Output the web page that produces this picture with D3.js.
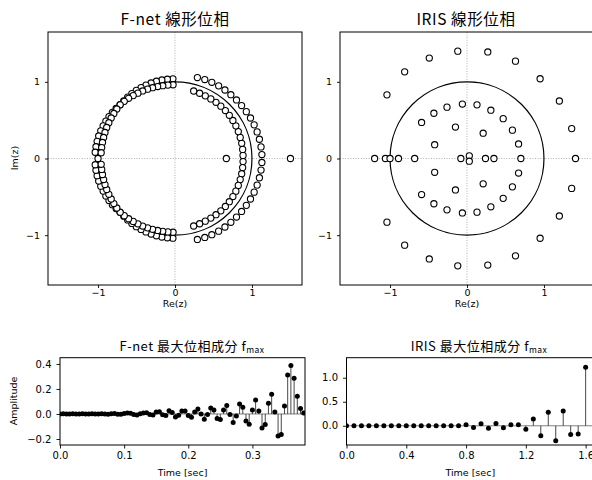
<!DOCTYPE html>
<html><head><meta charset="utf-8">
<script src="https://cdn.jsdelivr.net/npm/d3@7"></script>
<style>
body{margin:0;background:#fff}
svg{display:block;overflow:hidden}
text{font-family:"DejaVu Sans",sans-serif;fill:#000}
.ttl{font-family:"Noto Sans CJK JP",sans-serif}
</style></head><body>
<svg id="fig" width="592" height="480"></svg>
<script>
// ---- F-net linear-phase filter zeros (upper half-plane; conjugates are mirrored) ----
const fnetLeftAngle  = [91.5, 95.5, 99.5, 103.5, 107.5, 111.5, 115.5, 119.5, 123.5, 127.5, 131.5,
                        135.5, 139.5, 143.5, 147.5, 151.5, 155.5, 159.5, 163.5, 167.5, 171.5, 175.5];
const fnetLeftOuterR = [1.040, 1.039, 1.038, 1.036, 1.033, 1.029, 1.025, 1.021, 1.016, 1.010, 1.005,
                        1.001, 1.006, 1.012, 1.017, 1.022, 1.026, 1.030, 1.034, 1.036, 1.038, 1.040];
const fnetLeftInnerR = [0.962, 0.962, 0.963, 0.965, 0.968, 0.972, 0.976, 0.979, 0.984, 0.990, 0.995,
                        0.999, 0.994, 0.988, 0.983, 0.978, 0.975, 0.971, 0.967, 0.965, 0.963, 0.962];
const fnetRightAngle  = [2.6, 7.7, 12.9, 18.0, 23.1, 28.3, 33.4, 38.6, 43.7, 48.9, 54.0, 59.1, 64.3, 69.4, 74.6];
const fnetRightOuterR = [1.130, 1.128, 1.125, 1.122, 1.118, 1.114, 1.110, 1.107, 1.105, 1.104, 1.104, 1.104, 1.103, 1.100, 1.095];
const fnetRightInnerR = [0.885, 0.887, 0.889, 0.891, 0.894, 0.898, 0.901, 0.903, 0.905, 0.906, 0.906, 0.906, 0.907, 0.909, 0.913];
const fnetRealZeros = [-1.0, 0.667, 1.5];

// ---- IRIS linear-phase filter zeros (real, imaginary) ----
const irisRe = [
  -1.04, -0.81, -0.49, -0.12, 0.27, 0.63, 0.95, 1.20, 1.36, 1.41,
  -1.04, -0.81, -0.49, -0.12, 0.27, 0.63, 0.95, 1.20, 1.36,
  -0.59, -0.43, -0.26, -0.06, 0.13, 0.31, 0.47, 0.59, 0.67, 0.70,
  -0.59, -0.43, -0.26, -0.06, 0.13, 0.31, 0.47, 0.59, 0.67,
  -0.42, -0.42, -0.15, -0.15, 0.21, 0.21, 0.03, 0.03, -0.08, 0.24, 0.35,
  -1.20, -1.06, -1.00, -0.89, -0.68];
const irisIm = [
  0.83, 1.13, 1.31, 1.40, 1.39, 1.27, 1.04, 0.75, 0.39, 0.00,
  -0.83, -1.13, -1.31, -1.40, -1.39, -1.27, -1.04, -0.75, -0.39,
  0.47, 0.59, 0.67, 0.71, 0.70, 0.63, 0.52, 0.37, 0.19, 0.00,
  -0.47, -0.59, -0.67, -0.71, -0.70, -0.63, -0.52, -0.37, -0.19,
  0.18, -0.18, 0.41, -0.41, 0.33, -0.33, 0.035, -0.035, 0.00, 0.00, 0.00,
  0.00, 0.00, 0.00, 0.00, 0.00];

// ---- maximum-phase components ----
const fnetDt = 0.005;
const fnetFmax = [
  0.000, 0.001, 0.000, 0.000, 0.001, 0.000, 0.000, 0.001, 0.000, -0.001,
  0.001, 0.000, -0.001, 0.002, 0.000, -0.002, 0.002, 0.003, -0.002, -0.003,
  0.004, 0.008, 0.006, -0.004, -0.008, 0.002, 0.008, 0.010, -0.004, -0.008,
  0.016, 0.018, -0.006, -0.012, 0.026, 0.012, -0.024, -0.010, 0.024, 0.024,
  -0.013, -0.027, 0.016, 0.040, 0.000, -0.043, -0.005, 0.048, 0.032, -0.037,
  -0.045, 0.032, 0.067, -0.005, -0.069, -0.016, 0.080, 0.053, -0.056, -0.083,
  0.032, 0.112, 0.024, -0.112, -0.085, 0.085, 0.157, 0.016, -0.176, -0.165,
  0.064, 0.312, 0.387, 0.285, 0.141, 0.043, 0.008];
const irisDt = 0.05;
const irisFmax = [
  0.00, 0.00, 0.00, 0.00, 0.00, 0.00, 0.00, 0.00, 0.00, 0.00,
  0.00, 0.00, 0.00, 0.00, 0.00, 0.00, 0.02, -0.035, 0.04, -0.05,
  0.05, -0.04, 0.02, 0.02, -0.07, 0.14, -0.21, 0.28, -0.31, 0.31,
  -0.18, -0.17, 1.22];

// ---- tick labels ----
const zTicks = [-1, 0, 1];
const fnetXTicks = [0.0, 0.1, 0.2, 0.3];
const fnetYTicks = [-0.2, 0.0, 0.2, 0.4];
const irisXTicks = [0.0, 0.4, 0.8, 1.2, 1.6];
const irisYTicks = [0.0, 0.5, 1.0];

const svg = d3.select("#fig");
let clipId = 0;

function styleAxis(sel, fs) {
  sel.select(".domain").remove();
  sel.selectAll(".tick line").attr("stroke", "#000").attr("stroke-width", 0.9);
  sel.selectAll(".tick text").attr("font-family", "DejaVu Sans").attr("font-size", fs).attr("fill", "#000");
}

function frame(g, b) {
  g.append("rect").attr("x", b.x0).attr("y", b.y0).attr("width", b.x1 - b.x0).attr("height", b.y1 - b.y0)
    .attr("fill", "none").attr("stroke", "#000").attr("stroke-width", 1);
}

function clipFor(b) {
  const id = "clip" + (clipId++);
  svg.append("clipPath").attr("id", id).append("rect")
    .attr("x", b.x0).attr("y", b.y0).attr("width", b.x1 - b.x0).attr("height", b.y1 - b.y0);
  return "url(#" + id + ")";
}

function zPlane(b, re, im, titleLatin, titleCjk, tx) {
  const x = d3.scaleLinear().domain([-1.65, 1.65]).range([b.x0, b.x1]);
  const y = d3.scaleLinear().domain([-1.65, 1.65]).range([b.y1, b.y0]);
  const g = svg.append("g");
  const inner = g.append("g").attr("clip-path", clipFor(b));
  inner.append("line").attr("x1", x(0)).attr("x2", x(0)).attr("y1", b.y0).attr("y2", b.y1)
    .attr("stroke", "#999").attr("stroke-width", 0.8).attr("stroke-dasharray", "1,1.6");
  inner.append("line").attr("x1", b.x0).attr("x2", b.x1).attr("y1", y(0)).attr("y2", y(0))
    .attr("stroke", "#999").attr("stroke-width", 0.8).attr("stroke-dasharray", "1,1.6");
  inner.append("ellipse").attr("cx", x(0)).attr("cy", y(0))
    .attr("rx", x(1) - x(0)).attr("ry", y(0) - y(1))
    .attr("fill", "none").attr("stroke", "#000").attr("stroke-width", 1.2);
  inner.selectAll("circle.z").data(d3.range(re.length)).join("circle")
    .attr("class", "z").attr("cx", i => x(re[i])).attr("cy", i => y(im[i])).attr("r", 3.1)
    .attr("fill", "#fff").attr("stroke", "#000").attr("stroke-width", 1.1);
  frame(g, b);
  g.append("g").attr("transform", `translate(0,${b.y1})`)
    .call(d3.axisBottom(x).tickValues(zTicks).tickSize(3).tickPadding(1.5).tickFormat(d3.format("d")))
    .call(s => styleAxis(s, 9.5));
  g.append("g").attr("transform", `translate(${b.x0},0)`)
    .call(d3.axisLeft(y).tickValues(zTicks).tickSize(3).tickPadding(5).tickFormat(d3.format("d")))
    .call(s => styleAxis(s, 9.5));
  g.append("text").attr("x", (b.x0 + b.x1) / 2).attr("y", b.y1 + 22).attr("text-anchor", "middle")
    .attr("font-size", 9.5).text("Re(z)");
  const t = g.append("text").attr("class", "ttl").attr("x", tx).attr("y", 25)
    .attr("text-anchor", "middle").attr("font-size", 15.5).attr("letter-spacing", 0.6);
  t.append("tspan").text(titleLatin + " ");
  t.append("tspan").text(titleCjk);
  return g;
}

function stemPlot(b, vals, dt, xDom, yDom, xTicks, yTicks, titleLatin, tx) {
  const x = d3.scaleLinear().domain(xDom).range([b.x0, b.x1]);
  const y = d3.scaleLinear().domain(yDom).range([b.y1, b.y0]);
  const g = svg.append("g");
  const inner = g.append("g").attr("clip-path", clipFor(b));
  inner.append("line").attr("x1", b.x0).attr("x2", b.x1).attr("y1", y(0)).attr("y2", y(0))
    .attr("stroke", "#808080").attr("stroke-width", 1);
  inner.selectAll("line.stem").data(vals).join("line").attr("class", "stem")
    .attr("x1", (d, i) => x(i * dt)).attr("x2", (d, i) => x(i * dt))
    .attr("y1", y(0)).attr("y2", d => y(d)).attr("stroke", "#333").attr("stroke-width", 0.9);
  inner.selectAll("circle.m").data(vals).join("circle").attr("class", "m")
    .attr("cx", (d, i) => x(i * dt)).attr("cy", d => y(d)).attr("r", 2.5).attr("fill", "#000");
  frame(g, b);
  g.append("g").attr("transform", `translate(0,${b.y1})`)
    .call(d3.axisBottom(x).tickValues(xTicks).tickSize(3.5).tickPadding(3).tickFormat(d3.format(".1f")))
    .call(s => styleAxis(s, 10));
  g.append("g").attr("transform", `translate(${b.x0},0)`)
    .call(d3.axisLeft(y).tickValues(yTicks).tickSize(3.5).tickPadding(5).tickFormat(d3.format(".1f")))
    .call(s => styleAxis(s, 10));
  g.append("text").attr("x", (b.x0 + b.x1) / 2).attr("y", b.y1 + 31).attr("text-anchor", "middle")
    .attr("font-size", 9.5).text("Time [sec]");
  const t = g.append("text").attr("class", "ttl").attr("x", tx).attr("y", 351)
    .attr("text-anchor", "middle").attr("font-size", 13).attr("letter-spacing", 0.5);
  t.append("tspan").text(titleLatin + " 最大位相成分 f");
  t.append("tspan").attr("font-size", 8.5).attr("dy", 2).text("max");
  return g;
}

// assemble F-net zeros (upper set plus conjugates)
const fRe = [], fIm = [];
function addPolar(ang, rad) {
  ang.forEach((a, i) => {
    const th = a * Math.PI / 180;
    fRe.push(rad[i] * Math.cos(th)); fIm.push(rad[i] * Math.sin(th));
    fRe.push(rad[i] * Math.cos(th)); fIm.push(-rad[i] * Math.sin(th));
  });
}
addPolar(fnetLeftAngle, fnetLeftOuterR);
addPolar(fnetLeftAngle, fnetLeftInnerR);
addPolar(fnetRightAngle, fnetRightOuterR);
addPolar(fnetRightAngle, fnetRightInnerR);
fnetRealZeros.forEach(v => { fRe.push(v); fIm.push(0); });

zPlane({x0: 48, x1: 302, y0: 32, y1: 285}, fRe, fIm, "F-net", "線形位相", 175);
zPlane({x0: 340, x1: 594, y0: 32, y1: 285}, irisRe, irisIm, "IRIS", "線形位相", 466);

// y-axis label of the pole-zero plots
svg.append("text").attr("transform", "translate(18,158) rotate(-90)").attr("text-anchor", "middle")
  .attr("font-size", 9.5).text("Im(z)");

stemPlot({x0: 60, x1: 305, y0: 357.7, y1: 445}, fnetFmax, fnetDt, [0, 0.382], [-0.248, 0.45],
  fnetXTicks, fnetYTicks, "F-net", 192);
stemPlot({x0: 346.5, x1: 594, y0: 357.7, y1: 445}, irisFmax, irisDt, [0, 1.656], [-0.40, 1.417],
  irisXTicks, irisYTicks, "IRIS", 479);

svg.append("text").attr("transform", "translate(17,401) rotate(-90)").attr("text-anchor", "middle")
  .attr("font-size", 9.5).text("Amplitude");
</script>
</body></html>
